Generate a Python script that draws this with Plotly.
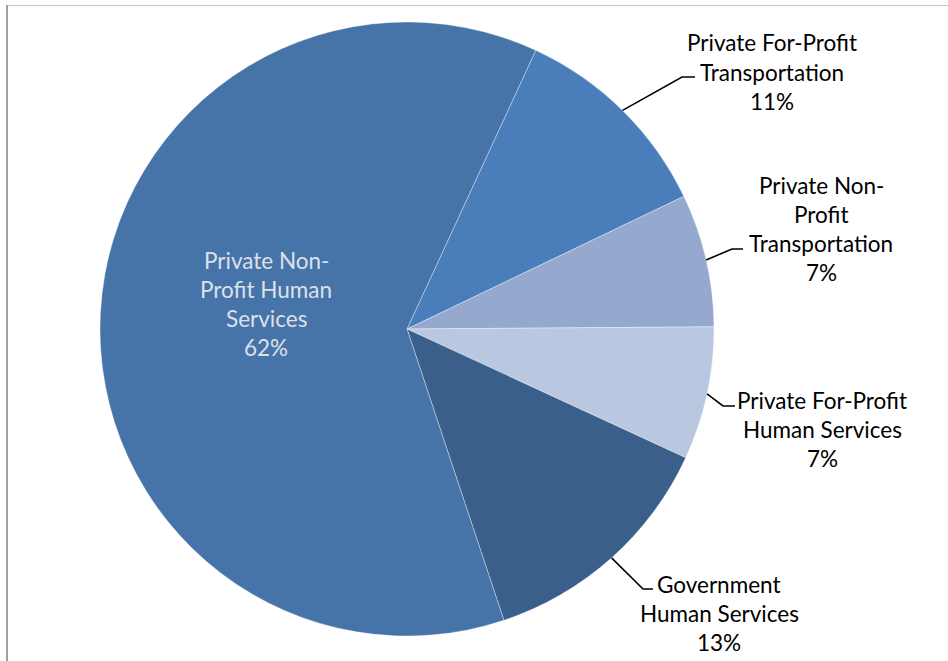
import math
import plotly.graph_objects as go

# Share of providers by sector (percent)
sectors = [
    "Private For-Profit Transportation",
    "Private Non-Profit Transportation",
    "Private For-Profit Human Services",
    "Government Human Services",
    "Private Non-Profit Human Services",
]
shares = [11, 7, 7, 13, 62]
colors = ["#4A7EBB", "#95A9CF", "#B9C7E1", "#3A5F8B", "#4674A8"]

# Label text, broken into lines the way they are printed
label_lines = [
    ["Private For-Profit", "Transportation", "11%"],
    ["Private Non-", "Profit", "Transportation", "7%"],
    ["Private For-Profit", "Human Services", "7%"],
    ["Government", "Human Services", "13%"],
    ["Private Non-", "Profit Human", "Services", "62%"],
]

W, H = 948, 661
CX, CY, R = 407, 329, 307          # pie centre and radius in pixels
ROTATION = 24.8                    # start angle of first slice, clockwise from 12 o'clock

# label placement: (text centre x, first line y), line pitch in px
label_pos = [(772, 43), (821, 185), (822, 400), (719, 584), (266, 260)]
PITCH = 29.2
# leader elbows: (elbow x, elbow y, end x)
leaders = [(682, 77, 695), (732, 249, 743), (723, 406, 735), (643, 589, 653), None]

FONT = "Lato, Carlito, Calibri, sans-serif"
FSIZE = 22.5


def px(x):
    return x / W


def py(y):
    return 1 - y / H


fig = go.Figure(
    go.Pie(
        labels=sectors,
        values=shares,
        sort=False,
        direction="clockwise",
        rotation=ROTATION,
        marker=dict(colors=colors, line=dict(color="rgba(255,255,255,0.5)", width=0.7)),
        textinfo="none",
        hoverinfo="label+percent",
        showlegend=False,
        domain=dict(x=[px(CX - R), px(CX + R)], y=[py(CY + R), py(CY - R)]),
    )
)

annotations = []
shapes = []
total = sum(shares)
cum = 0.0
for i, v in enumerate(shares):
    mid = math.radians(ROTATION + (cum + v / 2) / total * 360)
    cum += v
    lx, ly = label_pos[i]
    inside = leaders[i] is None
    for k, line in enumerate(label_lines[i]):
        annotations.append(
            dict(
                x=px(lx), y=py(ly + k * PITCH), xref="paper", yref="paper",
                text=line, showarrow=False, xanchor="center", yanchor="middle",
                font=dict(family=FONT, size=FSIZE, color="#DCE1E8" if inside else "#000000"),
            )
        )
    if not inside:
        sx = CX + R * math.sin(mid)
        sy = CY - R * math.cos(mid)
        ex, ey, endx = leaders[i]
        shapes.append(
            dict(
                type="path", xref="paper", yref="paper",
                path=f"M {px(sx)},{py(sy)} L {px(ex)},{py(ey)} L {px(endx)},{py(ey)}",
                line=dict(color="#000000", width=1.6),
            )
        )

# chart frame edges
shapes.append(dict(type="line", xref="paper", yref="paper",
                   x0=px(7), x1=px(7), y0=py(5), y1=py(H),
                   line=dict(color="#A0A0A0", width=2)))
shapes.append(dict(type="line", xref="paper", yref="paper",
                   x0=px(8), x1=1, y0=py(5.5), y1=py(5.5),
                   line=dict(color="#C4C4C4", width=1)))

fig.update_layout(
    width=W, height=H,
    margin=dict(l=0, r=0, t=0, b=0),
    paper_bgcolor="white", plot_bgcolor="white",
    annotations=annotations, shapes=shapes,
)

fig.write_html("out.html")
